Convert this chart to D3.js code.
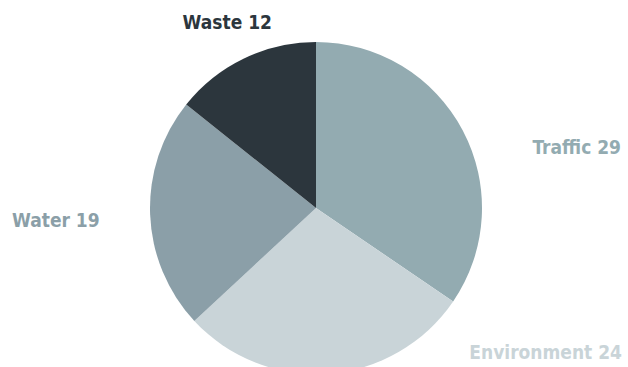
<!DOCTYPE html>
<html>
<head>
<meta charset="utf-8">
<script src="https://cdn.jsdelivr.net/npm/d3@7/dist/d3.min.js"></script>
<style>
  html, body { margin: 0; padding: 0; background: #ffffff; }
  svg { display: block; }
  .label {
    font-family: "DejaVu Sans Condensed", "DejaVu Sans", sans-serif;
    font-stretch: condensed;
    font-weight: bold;
    font-size: 19px;
  }
</style>
</head>
<body>
<svg id="chart" width="628" height="367"></svg>
<script>
// Slice data, clockwise from 12 o'clock
const categories = ["Traffic", "Environment", "Water", "Waste"];
const values = [29, 24, 19, 12];
const colors = ["#93abb1", "#c9d4d8", "#8b9fa8", "#2c363d"];

const width = 628, height = 367;
const cx = 316, cy = 208, radius = 166;

// Where each slice's label sits and how it is anchored
const labelLayout = {
  Traffic:     { x: 621, y: 154, anchor: "end" },
  Environment: { x: 622, y: 359, anchor: "end" },
  Water:       { x: 12,  y: 227, anchor: "start" },
  Waste:       { x: 272, y: 29,  anchor: "end" }
};

const svg = d3.select("#chart");
const rows = categories.map((c, i) => ({ name: c, value: values[i], color: colors[i] }));

const pie = d3.pie().sort(null).value(d => d.value);
const arc = d3.arc().innerRadius(0).outerRadius(radius);

const g = svg.append("g").attr("transform", `translate(${cx},${cy})`);
g.selectAll("path")
  .data(pie(rows))
  .join("path")
  .attr("d", arc)
  .attr("fill", d => d.data.color);

svg.selectAll("text.label")
  .data(rows)
  .join("text")
  .attr("class", "label")
  .attr("x", d => labelLayout[d.name].x)
  .attr("y", d => labelLayout[d.name].y)
  .attr("text-anchor", d => labelLayout[d.name].anchor)
  .attr("fill", d => d.color)
  .text(d => `${d.name} ${d.value}`);
</script>
</body>
</html>
